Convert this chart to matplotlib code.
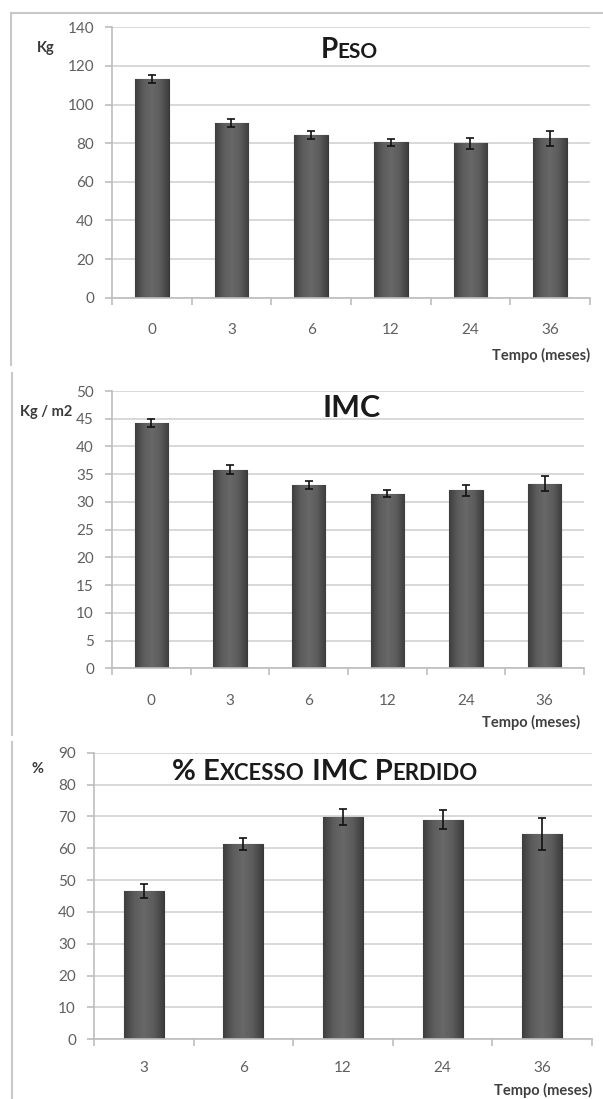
import numpy as np
import matplotlib
matplotlib.use("Agg")
import matplotlib.pyplot as plt
from matplotlib.lines import Line2D
from matplotlib.colors import LinearSegmentedColormap
from matplotlib.offsetbox import TextArea, HPacker, AnnotationBbox

# ---------------- data ----------------
peso_cats = ['0', '3', '6', '12', '24', '36']
peso_vals = [113.2, 90.3, 84.2, 80.4, 79.9, 82.5]
peso_err = [1.9, 2.1, 1.9, 2.0, 2.7, 3.8]

imc_cats = ['0', '3', '6', '12', '24', '36']
imc_vals = [44.2, 35.8, 33.0, 31.5, 32.1, 33.3]
imc_err = [0.75, 0.85, 0.7, 0.65, 1.0, 1.4]

eil_cats = ['3', '6', '12', '24', '36']
eil_vals = [46.6, 61.2, 69.9, 69.0, 64.4]
eil_err = [2.1, 1.9, 2.5, 3.0, 5.1]

# ---------------- style ----------------
W, H = 603, 1099
FONT = ['Lato', 'DejaVu Sans']
plt.rcParams['font.family'] = FONT
GRID = '#d6d6d6'
AXC = '#bdbdbd'
TICKC = '#606060'

fig = plt.figure(figsize=(W / 100, H / 100), dpi=100)
fig.patch.set_facecolor('white')


def rect(l, t, r, b):
    return [l / W, 1 - b / H, (r - l) / W, (b - t) / H]


def fx(x):
    return x / W


def fy(y):
    return 1 - y / H


bar_cmap = LinearSegmentedColormap.from_list(
    'bar', ['#3e3e3e', '#5c5c5c', '#686868', '#5c5c5c', '#3e3e3e'])


def panel(pos, cats, vals, errs, ymax, ystep, width, xpad):
    ax = fig.add_axes(pos)
    x = np.arange(len(cats))
    bars = ax.bar(x, vals, width=width, color='#5b5b5b', edgecolor='#383838',
                  linewidth=0.8, zorder=2)
    grad = np.linspace(0, 1, 64).reshape(1, -1)
    for b in bars:
        bx, by = b.get_x(), b.get_y()
        im = ax.imshow(grad, cmap=bar_cmap, aspect='auto', zorder=2.1,
                       extent=(bx, bx + b.get_width(), by, by + b.get_height()))
        im.set_clip_path(b)
    ax.errorbar(x, vals, yerr=errs, fmt='none', ecolor='#111111',
                elinewidth=1.2, capsize=2.6, capthick=1.2, zorder=3)
    ax.set_xlim(-0.5, len(cats) - 0.5)
    ax.set_ylim(0, ymax)
    ax.set_yticks(np.arange(0, ymax + 0.1, ystep))
    ax.yaxis.grid(True, color=GRID, linewidth=1.3, zorder=0)
    ax.set_axisbelow(True)
    for s in ['top', 'right']:
        ax.spines[s].set_visible(False)
    for s in ['left', 'bottom']:
        ax.spines[s].set_color(AXC)
        ax.spines[s].set_linewidth(1.2)
    ax.set_xticks(x)
    ax.set_xticklabels(cats)
    ax.set_xticks(np.arange(-0.5, len(cats)), minor=True)
    ax.tick_params(axis='x', which='major', length=0, pad=xpad,
                   labelsize=11, labelcolor=TICKC)
    ax.tick_params(axis='x', which='minor', length=5, width=1.2,
                   color=AXC, direction='out')
    ax.tick_params(axis='y', length=5, width=1.2, color=AXC, pad=8,
                   labelsize=11, labelcolor=TICKC)
    return ax


ax1 = panel(rect(112, 27.3, 590, 297.7), peso_cats, peso_vals, peso_err, 140, 20, 0.42, 18)
ax2 = panel(rect(112, 391, 584, 668.3), imc_cats, imc_vals, imc_err, 50, 5, 0.425, 18.5)
ax3 = panel(rect(94, 752.7, 592, 1039.3), eil_cats, eil_vals, eil_err, 90, 10, 0.40, 15.5)


def title(parts, cx, cy):
    boxes = [TextArea(t, textprops=dict(fontsize=s, fontweight='bold',
                                        family=FONT, color='#1a1a1a'))
             for t, s in parts]
    pack = HPacker(children=boxes, align='baseline', pad=0, sep=0)
    ab = AnnotationBbox(pack, (fx(cx), fy(cy)), xycoords='figure fraction',
                        frameon=False, box_alignment=(0.5, 0.5))
    fig.add_artist(ab)


title([('P', 20), ('ESO', 15)], 349, 50)
title([('IMC', 22)], 352, 408)
title([('% E', 21), ('XCESSO', 16), (' IMC P', 21), ('ERDIDO', 16)], 325, 772)

# unit labels
lab = dict(fontsize=10.5, fontweight='bold', color='#3a3a3a', ha='center', va='center')
fig.text(fx(46), fy(48), 'Kg', **lab)
fig.text(fx(46), fy(412), 'Kg / m2', **lab)
fig.text(fx(38), fy(769), '%', **lab)

# x-axis captions
cap = dict(fontsize=10.5, fontweight='bold', color='#404040', ha='right', va='center')
fig.text(fx(590), fy(355), 'Tempo (meses)', **cap)
fig.text(fx(580), fy(722), 'Tempo (meses)', **cap)
fig.text(fx(592), fy(1090), 'Tempo (meses)', **cap)

# frame borders
fc = '#c8c8c8'
for (x0, y0, x1, y1) in [(11, 13, 603, 13), (11, 13, 11, 365),
                         (12, 373, 12, 735), (12, 742, 12, 1099)]:
    fig.add_artist(Line2D([fx(x0), fx(x1)], [fy(y0), fy(y1)],
                          color=fc, linewidth=1.5, transform=fig.transFigure))

fig.savefig('out.png', dpi=100, facecolor='white')
